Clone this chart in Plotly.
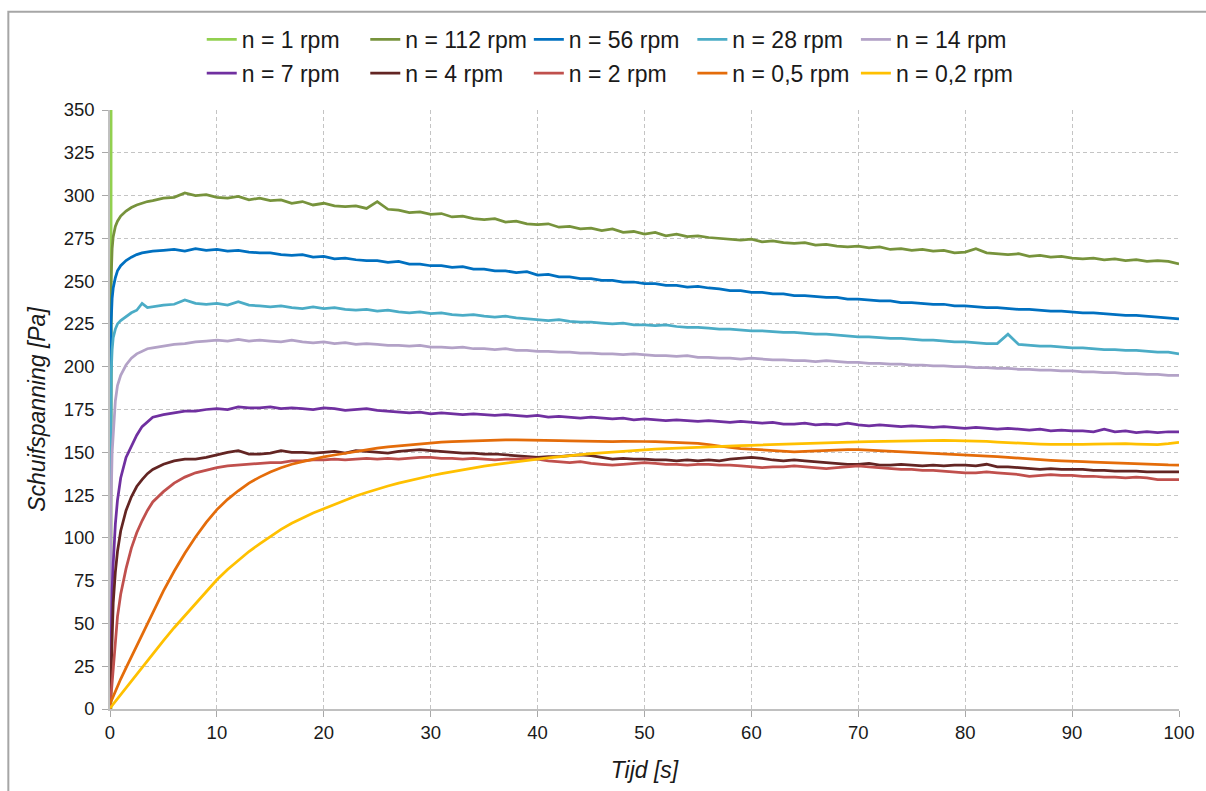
import plotly.graph_objects as go

# ---------------- data ----------------
time_s = [0, 0.1, 0.2, 0.3, 0.5, 0.7, 1, 1.5, 2, 2.5, 3, 3.5, 4,
          5, 6, 7, 8, 9, 10, 11, 12, 13, 14,
          15, 16, 17, 18, 19, 20, 21, 22, 23, 24,
          25, 26, 27, 28, 29, 30, 31, 32, 33, 34,
          35, 36, 37, 38, 39, 40, 41, 42, 43, 44,
          45, 46, 47, 48, 49, 50, 51, 52, 53, 54,
          55, 56, 57, 58, 59, 60, 61, 62, 63, 64,
          65, 66, 67, 68, 69, 70, 71, 72, 73, 74,
          75, 76, 77, 78, 79, 80, 81, 82, 83, 84,
          85, 86, 87, 88, 89, 90, 91, 92, 93, 94,
          95, 96, 97, 98, 99, 100]

n1_time = [0.1, 0.1]
n1_stress = [0, 350]

n112 = [0, 250, 269, 276, 282, 285, 288, 291, 293, 294.5, 295.5, 296.5, 297,
        298.5, 299, 301.5, 300, 300.5, 299, 298.5, 299.5, 297.5, 298.5,
        297, 297.5, 295.5, 296.5, 294.5, 295.5, 294, 293.5, 294, 292.5,
        296.5, 292, 291.5, 290, 290.5, 289, 289.5, 287.5, 288, 286.5,
        286, 286.5, 284.5, 285, 283.5, 283, 283.5, 281.5, 282, 280.5,
        281, 279.5, 280.5, 278.5, 279, 277.5, 278.5, 276.5, 277.5, 276,
        276.5, 275.5, 275, 274.5, 274, 274.5, 273, 273.5, 272.5, 272,
        272.5, 271, 271.5, 270.5, 270, 270.5, 269.5, 270, 268.5, 269,
        268, 268.5, 267.5, 268, 266.5, 267, 269, 266.5, 266, 265.5,
        266, 264.5, 265, 264, 264.5, 263.5, 263, 263.5, 262.5, 263,
        262, 262.5, 261.5, 262, 261.5, 260]

n56 = [0, 225, 240, 246, 252, 256, 259, 262, 264, 265.5, 266.5, 267, 267.5,
       268, 268.5, 267.5, 269, 268, 268.5, 267.5, 268, 267, 266.5,
       266.5, 265.5, 265, 265.5, 264, 264.5, 263, 263.5, 262.5, 262,
       262, 261, 261.5, 260, 260, 259, 259, 258, 258.5, 257,
       257, 256, 256, 255, 255.5, 253.5, 254, 252.5, 252.5, 251.5,
       251.5, 250.5, 250.5, 249.5, 249.5, 248.5, 248.5, 247.5, 247.5, 246.5,
       247, 246, 245.5, 244.5, 244.5, 243.5, 243.5, 242.5, 242.5, 241.5,
       241.5, 241, 240.5, 240.5, 239.5, 239.5, 239, 238.5, 238.5, 237.5,
       237.5, 237, 236.5, 236.5, 235.5, 235.5, 235, 234.5, 234.5, 234,
       233.5, 233.5, 233, 232.5, 232.5, 232, 231.5, 231.5, 231, 230.5,
       230, 230, 229.5, 229, 228.5, 228]

n28 = [0, 195, 210, 217, 222, 225, 227, 229.5, 231.5, 233, 237, 234.5, 235,
       236, 236.5, 239, 237, 236.5, 237, 236, 238, 236, 235.5,
       235, 235.5, 234.5, 234, 235, 234, 234.5, 233.5, 233, 233.5,
       232.5, 233, 232, 231.5, 232, 231, 231.5, 230.5, 230, 230.5,
       229.5, 229, 229.5, 228.5, 228, 227.5, 227, 227.5, 226.5, 226,
       226, 225.5, 225, 225.5, 224.5, 224.5, 224, 224.5, 223.5, 223,
       223, 222.5, 222, 222, 221.5, 221, 221, 220.5, 220, 220,
       219.5, 219, 219, 218.5, 218, 217.5, 217.5, 217, 216.5, 216.5,
       216, 215.5, 215.5, 215, 214.5, 214.5, 214, 213.5, 213.5, 219,
       213, 212.5, 212, 212, 211.5, 211, 211, 210.5, 210, 210,
       209.5, 209.5, 209, 208.5, 208.5, 207.5]

n14 = [0, 120, 150, 163, 180, 189, 195, 201, 205, 207.5, 209, 210.5, 211,
       212, 213, 213.5, 214.5, 215, 215.5, 215, 216, 215, 215.5,
       215, 214.5, 215.5, 214.5, 214, 214.5, 213.5, 214, 213, 213.5,
       213, 212.5, 212.5, 212, 212.5, 211.5, 211.5, 211, 211.5, 210.5,
       210.5, 210, 210.5, 209.5, 209.5, 209, 209, 208.5, 208.5, 208,
       208, 207.5, 207.5, 207, 207.5, 207, 206.5, 206.5, 206, 206.5,
       205.5, 205.5, 205, 205, 204.5, 205, 204.5, 204, 204, 203.5,
       203.5, 203, 203.5, 203, 202.5, 202.5, 202, 202, 201.5, 201.5,
       201, 201, 200.5, 200.5, 200, 200, 199.5, 199.5, 199, 199,
       198.5, 198.5, 198, 198, 197.5, 197.5, 197, 197, 196.5, 196.5,
       196, 196, 195.5, 195.5, 195, 195]

n7 = [0, 40, 70, 85, 108, 122, 135, 147, 154, 160, 165, 168, 170.5,
      172, 173, 174, 174, 175, 175.5, 175, 176.5, 176, 176,
      176.5, 175.5, 176, 175.5, 175, 176, 175.5, 174.5, 175, 175.5,
      174.5, 174, 173.5, 173, 173.5, 172.5, 173, 172.5, 172, 172.5,
      172, 171.5, 172, 171.5, 171, 171.5, 170.5, 171, 170.5, 170,
      170.5, 170, 169.5, 170, 169, 169.5, 169, 168.5, 169, 168.5,
      168, 168.5, 168, 167.5, 168, 167.5, 167, 167.5, 166.5, 166.5,
      167, 166, 166.5, 166, 167, 166, 165.5, 166, 165.5, 165,
      165.5, 165, 164.5, 165, 164.5, 164, 164.5, 164, 163.5, 164,
      163.5, 163, 163.5, 162.5, 163, 162.5, 162.5, 162, 163.5, 162,
      162.5, 161.5, 162, 161.5, 162, 162]

n4 = [0, 20, 45, 62, 80, 92, 104, 116, 124, 130, 134, 137.5, 140,
      143, 145, 146, 146, 147, 148.5, 150, 151, 149, 149,
      149.5, 151, 150, 150, 149.5, 150, 150.5, 149.5, 151, 150.5,
      150, 149.5, 150.5, 151, 151.5, 151, 150.5, 150, 149.5, 149.5,
      149, 149, 148.5, 148, 147.5, 147, 147.5, 147.5, 148, 148.5,
      148, 147, 146, 146.5, 146, 146, 145.5, 145.5, 145, 145.5,
      145, 145.5, 145, 146, 146.5, 147, 146.5, 145.5, 145, 145.5,
      145, 144.5, 144, 143.5, 143, 143, 143.5, 142.5, 142.5, 143,
      142.5, 142, 142.5, 142, 142.5, 142.5, 142, 143, 141.5, 141.5,
      141, 140.5, 140, 140.5, 140, 140, 140, 139.5, 139.5, 139,
      139, 139, 138.5, 138.5, 138.5, 138.5]

n2 = [0, 8, 18, 27, 42, 54, 67, 82, 94, 103, 110, 116, 121,
      127, 132, 135.5, 138, 139.5, 141, 142, 142.5, 143, 143.5,
      144, 144, 145, 145, 145.5, 145.5, 146, 145.5, 146, 146.5,
      146, 146.5, 146, 146.5, 147, 147, 146.5, 146.5, 146, 146.5,
      146, 145.5, 146, 146, 146.5, 146, 145, 144.5, 144, 144.5,
      143.5, 143, 142.5, 143, 143.5, 144, 143.5, 143, 143, 142.5,
      143, 143, 142.5, 142.5, 142, 141.5, 141, 141.5, 141.5, 142,
      141.5, 141, 140.5, 141, 141.5, 142, 141.5, 141, 140.5, 140,
      140, 139.5, 139.5, 139, 138.5, 138, 138, 138.5, 138, 137.5,
      137, 136, 136.5, 137, 136.5, 136.5, 136, 136, 135.5, 135.5,
      135, 135.5, 135, 134, 134, 134]

n05 = [3, 4.5, 6, 7.5, 10.5, 13.5, 17.5, 24, 30.5, 37, 43.5, 50, 56,
       69, 80.5, 91, 100.5, 109, 116.5, 122.5, 127.5, 132, 135.5,
       138.5, 141, 143, 144.5, 146, 147.3, 148.4, 149.5, 150.6, 151.6,
       152.4, 153.2, 153.8, 154.4, 155, 155.5, 155.9, 156.2, 156.5, 156.7,
       156.9, 157.2, 157.3, 157.2, 157, 156.8, 156.7, 156.8, 156.7, 156.5,
       156.4, 156.5, 156.3, 156.4, 156.5, 156.3, 156.2, 156, 155.8, 155.5,
       155.2, 154.5, 153.5, 152.8, 152.2, 151.8, 151.2, 150.8, 150.5, 150.3,
       150.5, 150.8, 151, 151.3, 151.5, 151.5, 151.2, 151, 150.6, 150.2,
       150, 149.7, 149.4, 149.2, 149, 148.8, 148.4, 148, 147.5, 147,
       146.5, 146, 145.5, 145.3, 145, 145, 144.6, 144.3, 144, 143.7,
       143.5, 143.3, 143, 142.8, 142.6, 142.5]

n02 = [0.5, 1.3, 2.1, 2.9, 4.5, 6, 8.5, 12.5, 16, 20, 24, 28, 32,
       40, 47.5, 54.5, 61.5, 68.5, 75.5, 81.5, 87, 92, 96.5,
       101, 105, 108.5, 111.5, 114.5, 117, 119.5, 122, 124.5, 126.5,
       128.5, 130.3, 132, 133.5, 135, 136.3, 137.5, 138.7, 139.8, 140.9,
       141.9, 142.8, 143.7, 144.5, 145.3, 146, 146.7, 147.4, 148, 148.6,
       149.2, 149.7, 150.2, 150.7, 151.1, 151.5, 151.9, 152.2, 152.5, 152.8,
       153.1, 153.3, 153.5, 153.7, 153.9, 154.1, 154.3, 154.6, 154.9, 155.2,
       155.5, 155.6, 155.8, 155.9, 156, 156.1, 156.2, 156.3, 156.5, 156.6,
       156.8, 157, 157, 156.9, 156.8, 156.8, 156.7, 156.4, 156, 155.6,
       155.3, 155, 154.8, 154.6, 154.5, 154.5, 154.6, 154.8, 155, 155.1,
       155, 154.8, 154.6, 154.5, 155, 155.8]

series_names = ["n = 112 rpm", "n = 56 rpm", "n = 28 rpm", "n = 14 rpm",
                "n = 7 rpm", "n = 4 rpm", "n = 2 rpm", "n = 0,5 rpm", "n = 0,2 rpm"]
series_values = [n112, n56, n28, n14, n7, n4, n2, n05, n02]
series_colors = ["#77933c", "#0070c0", "#4bacc6", "#b3a2c7",
                 "#7030a0", "#632523", "#c0504d", "#e46c0a", "#ffc000"]

FONT = "Liberation Sans, Arial, sans-serif"
TXT = "#1a1a1a"

# legend grid (Excel style: two rows of five, fixed columns)
legend_cols_px = [202, 366, 530, 694, 858]
legend_rows_px = [39, 73]
PLOT_L, PLOT_W, PLOT_T, PLOT_H = 110, 1072, 110, 603

fig = go.Figure()
all_names = ["n = 1 rpm"] + series_names
all_x = [n1_time] + [time_s] * len(series_values)
all_y = [n1_stress] + series_values
all_colors = ["#92d050"] + series_colors

legend_layout = {}
for i, (name, xs, ys, col) in enumerate(zip(all_names, all_x, all_y, all_colors)):
    lg = "legend" if i == 0 else f"legend{i + 1}"
    fig.add_trace(go.Scatter(x=xs, y=ys, mode="lines", name=name,
                             line=dict(color=col, width=2.75), legend=lg))
    r, c = divmod(i, 5)
    legend_layout[lg] = dict(
        orientation="h",
        x=(legend_cols_px[c] - PLOT_L) / PLOT_W, xanchor="left",
        y=(PLOT_T + PLOT_H - legend_rows_px[r]) / PLOT_H, yanchor="middle",
        font=dict(family=FONT, size=23, color=TXT),
        bgcolor="rgba(0,0,0,0)", borderwidth=0)

axis_common = dict(showgrid=True, gridcolor="#c4c4c4", griddash="4px,3px", gridwidth=1,
                   showline=True, linecolor="#c0c0c0", linewidth=1.5,
                   ticks="outside", ticklen=6, tickcolor="#a8a8a8", tickwidth=1,
                   zeroline=False, tickfont=dict(family=FONT, size=18.5, color=TXT))

fig.update_layout(
    width=1206, height=791,
    margin=dict(l=PLOT_L, r=1206 - PLOT_L - PLOT_W, t=PLOT_T, b=791 - PLOT_T - PLOT_H),
    paper_bgcolor="white", plot_bgcolor="white",
    font=dict(family=FONT, color=TXT),
    showlegend=True,
    xaxis=dict(range=[0, 100], tick0=0, dtick=10,
               title=dict(text="Tijd [s]", font=dict(family=FONT, size=23, style="italic", color=TXT),
                          standoff=20),
               **axis_common),
    yaxis=dict(range=[0, 350], tick0=0, dtick=25, ticklabelstandoff=4,
               title=dict(text="Schuifspanning [Pa]", font=dict(family=FONT, size=23, style="italic", color=TXT),
                          standoff=12),
               **axis_common),
    **legend_layout,
)

fig.add_shape(type="rect", xref="paper", yref="paper",
              x0=-0.0951, y0=-0.25, x1=1.05, y1=1.164,
              line=dict(color="#a6a6a6", width=2), fillcolor="rgba(0,0,0,0)", layer="above")

fig.write_html("out.html")
